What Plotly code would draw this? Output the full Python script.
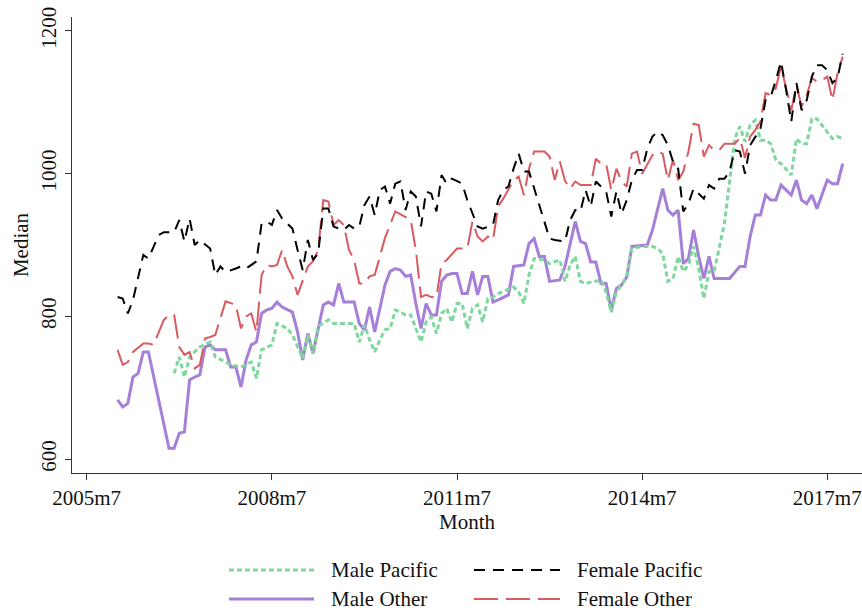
import plotly.graph_objects as go

# Stata monthly index: 2005m7 = 546. Months below are offsets from 2005m7.
BASE = 546

tick_offsets = [0, 36, 72, 108, 144]
tick_labels = ["2005m7", "2008m7", "2011m7", "2014m7", "2017m7"]
y_ticks = [600, 800, 1000, 1200]

# Male Pacific
mp_month = [17, 18, 19, 20, 21, 22, 24, 25, 27, 28, 30, 32, 33, 34, 36, 37, 39, 40, 42, 43, 44, 45, 47, 48,
            50, 52, 53, 54, 55, 56, 57, 58, 59, 60, 61, 62, 63, 65, 66, 67, 68, 69, 70, 71, 72, 73, 74, 75,
            76, 77, 78, 79, 80, 83, 84, 85, 86, 87, 89, 90, 92, 93, 94, 95, 96, 97, 100, 101, 102, 103, 104,
            105, 106, 108, 110, 111, 112, 113, 114, 115, 116, 117, 118, 119, 120, 121, 122, 124, 125, 126,
            127, 128, 129, 130, 131, 132, 133, 134, 135, 137, 138, 139, 140, 141, 142, 143, 145, 146, 147]
mp_value = [720, 743, 715, 743, 750, 757, 764, 743, 736, 732, 729, 736, 713, 753, 760, 790, 783, 774, 741, 774,
            748, 786, 795, 790, 790, 790, 764, 788, 767, 750, 767, 781, 783, 809, 806, 802, 802, 764, 792, 799,
            776, 804, 811, 792, 818, 818, 783, 811, 816, 792, 825, 827, 832, 841, 834, 818, 858, 881, 879, 874,
            879, 849, 872, 884, 849, 846, 851, 834, 806, 834, 844, 856, 895, 898, 898, 895, 888, 849, 853, 884,
            863, 872, 898, 867, 825, 863, 863, 930, 989, 1049, 1066, 1045, 1068, 1075, 1047, 1047, 1042, 1019,
            1014, 998, 1049, 1042, 1042, 1077, 1077, 1068, 1049, 1052, 1049]

# Female Pacific
fp_month = [6, 7, 8, 9, 11, 12, 14, 15, 17, 18, 19, 20, 21, 22, 24, 25, 26, 27, 29, 30, 31, 33, 34, 35, 36,
            37, 38, 40, 41, 42, 43, 44, 45, 46, 47, 48, 49, 50, 51, 52, 53, 54, 55, 56, 57, 58, 59, 60, 61,
            62, 63, 64, 65, 66, 67, 68, 69, 70, 71, 72, 73, 74, 75, 76, 77, 79, 80, 81, 82, 83, 84, 85, 86,
            89, 90, 91, 93, 94, 95, 96, 97, 98, 99, 100, 101, 102, 103, 104, 105, 106, 107, 108, 109, 110,
            111, 112, 113, 114, 115, 116, 117, 118, 119, 120, 121, 122, 123, 124, 125, 126, 127, 128, 129,
            130, 131, 132, 133, 134, 135, 136, 137, 138, 139, 140, 141, 142, 143, 144, 145, 146, 147]
fp_value = [827, 825, 804, 823, 886, 881, 914, 918, 918, 935, 905, 937, 900, 907, 895, 858, 870, 862, 867, 870,
            867, 877, 930, 933, 928, 949, 937, 923, 893, 865, 907, 879, 888, 951, 951, 926, 923, 921, 928, 923,
            926, 956, 968, 942, 977, 982, 958, 986, 989, 949, 975, 968, 926, 975, 972, 947, 998, 986, 993, 989,
            986, 963, 944, 926, 923, 928, 963, 977, 982, 1007, 1028, 1003, 1003, 930, 909, 907, 905, 935, 949,
            947, 977, 954, 989, 982, 975, 940, 975, 944, 963, 991, 1005, 1005, 1035, 1052, 1059, 1054, 1040,
            1017, 1007, 947, 958, 979, 972, 965, 984, 979, 993, 993, 1003, 1033, 1031, 1000, 1040, 1052, 1063,
            1103, 1108, 1131, 1157, 1117, 1073, 1127, 1089, 1103, 1136, 1152, 1152, 1145, 1127, 1135, 1168]

# Male Other
mo_month = [6, 7, 8, 9, 10, 11, 12, 16, 17, 18, 19, 20, 21, 22, 23, 24, 25, 27, 28, 29, 30, 31, 32, 33, 34,
            35, 36, 37, 38, 40, 41, 42, 43, 44, 46, 47, 48, 49, 50, 52, 53, 54, 55, 56, 58, 59, 60, 61, 62,
            63, 64, 65, 66, 67, 68, 69, 70, 71, 72, 73, 74, 75, 76, 77, 78, 79, 80, 82, 83, 85, 86, 87, 88,
            89, 90, 92, 93, 95, 96, 97, 98, 99, 100, 101, 102, 103, 104, 105, 106, 109, 110, 111, 112, 113,
            114, 115, 116, 117, 118, 119, 120, 121, 122, 125, 127, 128, 129, 130, 131, 132, 133, 134, 135,
            137, 138, 139, 140, 141, 142, 144, 145, 146, 147]
mo_value = [683, 673, 678, 715, 720, 750, 750, 615, 615, 636, 638, 711, 715, 718, 757, 760, 753, 753, 729, 729,
            701, 739, 760, 764, 804, 809, 811, 820, 813, 806, 778, 739, 776, 748, 816, 820, 816, 846, 820, 820,
            790, 781, 813, 778, 844, 863, 867, 865, 856, 858, 818, 783, 818, 802, 802, 849, 858, 860, 860, 832,
            832, 863, 830, 856, 856, 820, 823, 830, 870, 872, 902, 909, 884, 884, 849, 851, 870, 933, 905, 902,
            876, 876, 846, 846, 809, 839, 844, 855, 898, 900, 921, 949, 979, 949, 942, 949, 874, 881, 921, 884,
            853, 884, 853, 853, 870, 870, 912, 942, 942, 970, 963, 963, 984, 970, 991, 963, 958, 970, 951, 991,
            986, 986, 1014]

# Female Other
fo_month = [6, 7, 8, 9, 11, 12, 13, 15, 16, 17, 18, 19, 20, 21, 22, 23, 24, 25, 27, 28, 29, 30, 31, 32, 33,
            34, 35, 36, 37, 38, 39, 40, 41, 43, 44, 45, 46, 47, 48, 49, 50, 51, 52, 53, 54, 55, 56, 58, 60,
            63, 64, 65, 66, 67, 68, 69, 70, 72, 74, 75, 76, 77, 78, 79, 80, 81, 83, 84, 85, 86, 87, 89, 90,
            91, 92, 93, 94, 95, 96, 98, 99, 100, 101, 102, 103, 104, 105, 106, 107, 108, 109, 110, 111, 112,
            113, 114, 115, 116, 117, 118, 119, 120, 121, 122, 123, 124, 125, 126, 127, 128, 129, 130, 131,
            132, 133, 134, 135, 136, 137, 138, 139, 140, 141, 142, 143, 144, 145, 146, 147]
fo_value = [753, 732, 736, 750, 762, 762, 760, 795, 802, 802, 757, 746, 750, 727, 732, 769, 771, 774, 821, 818,
            816, 783, 800, 804, 778, 858, 872, 870, 872, 893, 870, 856, 830, 870, 877, 893, 963, 961, 928, 935,
            928, 893, 879, 846, 846, 856, 858, 910, 947, 935, 893, 827, 830, 827, 827, 874, 879, 895, 895, 933,
            912, 905, 912, 907, 954, 965, 991, 996, 970, 1007, 1031, 1031, 1024, 991, 1017, 990, 979, 989, 984,
            984, 1021, 1014, 1014, 977, 1007, 989, 982, 1028, 1031, 1000, 1014, 1026, 1031, 1028, 991, 1019,
            991, 1003, 1031, 1070, 1068, 1024, 1040, 1033, 1033, 1042, 1042, 1042, 1050, 1022, 1052, 1061,
            1073, 1113, 1110, 1120, 1150, 1120, 1089, 1124, 1094, 1110, 1134, 1129, 1131, 1136, 1103, 1141, 1164]

names = ["Male Pacific", "Female Pacific", "Male Other", "Female Other"]
colors = ["#7fd79e", "#000000", "#a67fd8", "#d95a60"]
dashes = ["5px,3px", "11px,8px", "solid", "24px,8px"]
widths = [3, 2, 3, 2]
months = [mp_month, fp_month, mo_month, fo_month]
values = [mp_value, fp_value, mo_value, fo_value]

FONT = "Liberation Serif"
FS = 21

fig = go.Figure()
draw_order = [2, 0, 3, 1]
for i in draw_order:
    fig.add_trace(go.Scatter(
        x=[BASE + m for m in months[i]], y=values[i], mode="lines", name=names[i],
        line=dict(color=colors[i], width=widths[i], dash=dashes[i]),
        showlegend=False,
    ))

# Plot area in pixels: x 72..862, y 17..473
L, R, T, B = 72, 862, 17, 473
W, H = 862, 611
def px(xp):
    return (xp - L) / (R - L)
def py(yp):
    return (B - yp) / (B - T)

legend_pos = [(229, 314, 329, 570), (474, 560, 575, 570), (229, 314, 329, 599), (474, 560, 575, 599)]
shapes = []
annotations = []
for i, (x0, x1, xt, yy) in enumerate(legend_pos):
    shapes.append(dict(type="line", xref="paper", yref="paper", x0=px(x0), x1=px(x1), y0=py(yy), y1=py(yy),
                       line=dict(color=colors[i], width=widths[i], dash=dashes[i])))
    annotations.append(dict(xref="paper", yref="paper", x=px(xt), y=py(yy), text=names[i], showarrow=False,
                            xanchor="left", yanchor="middle", font=dict(family=FONT, size=FS, color="#111")))

fig.update_layout(
    width=W, height=H,
    margin=dict(l=L, r=W - R, t=T, b=H - B),
    paper_bgcolor="white", plot_bgcolor="white",
    font=dict(family=FONT, size=FS, color="#111"),
    shapes=shapes, annotations=annotations,
    showlegend=False,
)
fig.update_xaxes(
    range=[BASE - 2.86, BASE + 150.75],
    tickvals=[BASE + t for t in tick_offsets], ticktext=tick_labels,
    showgrid=False, zeroline=False,
    showline=True, linecolor="#333", linewidth=1.3,
    ticks="outside", ticklen=6, tickcolor="#333", tickwidth=1.3,
    tickfont=dict(family=FONT, size=FS, color="#111"),
    title=dict(text="Month", font=dict(family=FONT, size=FS, color="#111"), standoff=0),
)
fig.update_yaxes(
    range=[580.4, 1219.6],
    tickvals=y_ticks, ticktext=[str(v) for v in y_ticks],
    tickangle=-90,
    showgrid=False, zeroline=False,
    showline=True, linecolor="#333", linewidth=1.3,
    ticks="outside", ticklen=6, tickcolor="#333", tickwidth=1.3,
    tickfont=dict(family=FONT, size=FS, color="#111"),
    title=dict(text="Median", font=dict(family=FONT, size=FS, color="#111"), standoff=3),
)

fig.write_html("out.html", config={"displayModeBar": False},
               post_script="document.body.style.margin='0px';document.body.style.overflow='hidden';")
